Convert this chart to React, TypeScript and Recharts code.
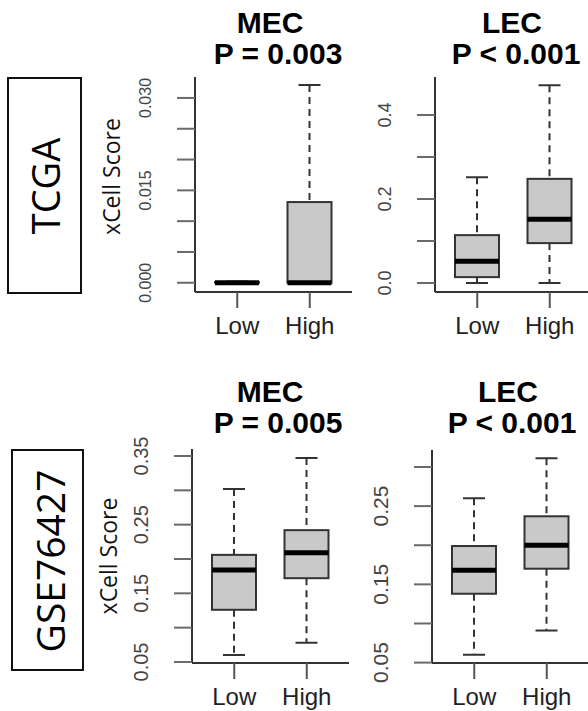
import React from "react";
import { ComposedChart, Bar, XAxis, YAxis } from "recharts";

const groups = ["Low", "High"];

// [lower whisker, Q1, median, Q3, upper whisker] for Low and High
const tcgaMec = [
  [0, 0, 0, 0.0001, 0.0002],
  [0, 0, 0, 0.0131, 0.0321],
];
const tcgaLec = [
  [0.0, 0.014, 0.052, 0.114, 0.252],
  [0.0, 0.095, 0.152, 0.248, 0.471],
];
const gseMec = [
  [0.06, 0.126, 0.184, 0.206, 0.302],
  [0.078, 0.172, 0.209, 0.242, 0.347],
];
const gseLec = [
  [0.06, 0.138, 0.168, 0.199, 0.26],
  [0.091, 0.17, 0.2, 0.237, 0.311],
];

const tcgaMecTicks = [0, 0.005, 0.01, 0.015, 0.02, 0.025, 0.03];
const tcgaMecLabels = ["0.000", "", "", "0.015", "", "", "0.030"];
const tcgaLecTicks = [0, 0.1, 0.2, 0.3, 0.4];
const tcgaLecLabels = ["0.0", "", "0.2", "", "0.4"];
const gseMecTicks = [0.05, 0.1, 0.15, 0.2, 0.25, 0.3, 0.35];
const gseMecLabels = ["0.05", "", "0.15", "", "0.25", "", "0.35"];
const gseLecTicks = [0.05, 0.1, 0.15, 0.2, 0.25, 0.3];
const gseLecLabels = ["0.05", "", "0.15", "", "0.25", ""];

const FRAME = "#333";
const SANS = "'Liberation Sans', Arial, sans-serif";

function BoxShape(props: any) {
  const { x, y, width, height, payload } = props;
  const [lo, q1, med, q3, hi] = payload.stats;
  const h = Math.abs(height || 0);
  const top = height >= 0 ? y : y + height;
  const span = hi - lo;
  const py = (v: number) => (span > 0 ? top + (h * (hi - v)) / span : top);
  const cx = x + width / 2;
  const cap = width / 4;
  return (
    <g>
      <line x1={cx} x2={cx} y1={py(hi)} y2={py(q3)} stroke={FRAME} strokeWidth={2} strokeDasharray="7 5" />
      <line x1={cx} x2={cx} y1={py(q1)} y2={py(lo)} stroke={FRAME} strokeWidth={2} strokeDasharray="7 5" />
      <line x1={cx - cap} x2={cx + cap} y1={py(hi)} y2={py(hi)} stroke={FRAME} strokeWidth={2} />
      <line x1={cx - cap} x2={cx + cap} y1={py(lo)} y2={py(lo)} stroke={FRAME} strokeWidth={2} />
      <rect x={x} y={py(q3)} width={width} height={Math.max(py(q1) - py(q3), 0)} fill="#c9c9c9" stroke={FRAME} strokeWidth={2} />
      <line x1={x} x2={x + width} y1={py(med)} y2={py(med)} stroke="#000" strokeWidth={5} />
    </g>
  );
}

function XTick(props: any) {
  const { x, y, payload } = props;
  return (
    <text x={x} y={y + 26} textAnchor="middle" fontSize={24} fontFamily={SANS} fill="#222">
      {payload.value}
    </text>
  );
}

const makeYTick = (ticks: number[], labels: string[], fontSize: number) => (props: any) => {
  const { x, y, payload } = props;
  const i = ticks.findIndex((t) => Math.abs(t - payload.value) < 1e-9);
  const label = i >= 0 ? labels[i] : "";
  if (!label) return <g />;
  const bx = x - 26;
  return (
    <text x={bx} y={y} transform={`rotate(-90, ${bx}, ${y})`} textAnchor="middle" fontSize={fontSize} fontFamily={SANS} fill="#444">
      {label}
    </text>
  );
};

type PanelProps = {
  stats: number[][];
  ticks: number[];
  labels: string[];
  domain: [number, number];
  plotLeft: number;
  plotTop: number;
  plotW: number;
  plotH: number;
  tickFont: number;
  yTitle?: boolean;
  yTitleDy?: number;
};

function Panel({ stats, ticks, labels, domain, plotLeft, plotTop, plotW, plotH, tickFont, yTitle, yTitleDy = 0 }: PanelProps) {
  const data = groups.map((g, i) => ({ group: g, range: [stats[i][0], stats[i][4]], stats: stats[i] }));
  const axisW = 110;
  const mt = 30;
  const mr = 10;
  const xh = 50;
  return (
    <div style={{ position: "absolute", left: plotLeft - axisW, top: plotTop - mt }}>
      <ComposedChart width={axisW + plotW + mr} height={mt + plotH + xh} data={data} margin={{ top: mt, right: mr, bottom: 0, left: 0 }}>
        <XAxis
          dataKey="group"
          height={xh}
          padding={{ left: 6, right: 6 }}
          tickSize={16}
          tickMargin={0}
          tick={<XTick />}
          tickLine={{ stroke: "#555", strokeWidth: 2 }}
          axisLine={{ stroke: FRAME, strokeWidth: 2 }}
        />
        <XAxis xAxisId="top" orientation="top" dataKey="group" height={0} tick={false} tickLine={false} axisLine={{ stroke: FRAME, strokeWidth: 2 }} />
        <YAxis
          type="number"
          width={axisW}
          domain={domain}
          ticks={ticks}
          allowDataOverflow
          interval={0}
          tickSize={18}
          tickMargin={0}
          tick={makeYTick(ticks, labels, tickFont)}
          tickLine={{ stroke: "#6a6a6a", strokeWidth: 2 }}
          axisLine={{ stroke: FRAME, strokeWidth: 2 }}
          label={
            yTitle
              ? {
                  content: (p: any) => {
                    const vb = p.viewBox || {};
                    const bx = vb.x + vb.width - 75;
                    const cy = vb.y + vb.height / 2 + yTitleDy;
                    return (
                      <text x={bx} y={cy} transform={`rotate(-90, ${bx}, ${cy})`} textAnchor="middle" fontSize={23} fontFamily="'Open Sans', sans-serif" fill="#111">
                        xCell Score
                      </text>
                    );
                  },
                }
              : undefined
          }
        />
        <YAxis yAxisId="right" orientation="right" width={0} domain={[0, 1]} tick={false} tickLine={false} axisLine={{ stroke: FRAME, strokeWidth: 2 }} />
        <Bar dataKey="range" barSize={44} shape={<BoxShape />} isAnimationActive={false} />
      </ComposedChart>
    </div>
  );
}

const titleStyle = { fontFamily: SANS, fontWeight: 700, fontSize: 30, fill: "#000" } as const;

export default function App() {
  return (
    <div style={{ position: "fixed", left: 0, top: 0, width: 588, height: 711, overflow: "hidden", background: "#fff" }}>
      <svg width={588} height={711} style={{ position: "absolute", left: 0, top: 0 }}>
        <rect x={8} y={78} width={73} height={215} fill="none" stroke="#111" strokeWidth={2} />
        <text x={60} y={186} transform="rotate(-90, 60, 186)" textAnchor="middle" fontSize={38} fontFamily="'Open Sans', sans-serif" fill="#000">
          TCGA
        </text>
        <rect x={12} y={450} width={71} height={220} fill="none" stroke="#111" strokeWidth={2} />
        <text x={65} y={561} transform="rotate(-90, 65, 561)" textAnchor="middle" fontSize={39} fontFamily="'Open Sans', sans-serif" fill="#000">
          GSE76427
        </text>
        <text x={270} y={33} textAnchor="middle" style={titleStyle}>MEC</text>
        <text x={278} y={64} textAnchor="middle" style={titleStyle}>P = 0.003</text>
        <text x={512} y={33} textAnchor="middle" style={titleStyle}>LEC</text>
        <text x={516} y={64} textAnchor="middle" style={titleStyle}>P &lt; 0.001</text>
        <text x={270} y={402} textAnchor="middle" style={titleStyle}>MEC</text>
        <text x={278} y={433} textAnchor="middle" style={titleStyle}>P = 0.005</text>
        <text x={508} y={402} textAnchor="middle" style={titleStyle}>LEC</text>
        <text x={512} y={433} textAnchor="middle" style={titleStyle}>P &lt; 0.001</text>
      </svg>
      <Panel stats={tcgaMec} ticks={tcgaMecTicks} labels={tcgaMecLabels} domain={[-0.0015, 0.0334]} plotLeft={195} plotTop={77} plotW={157} plotH={215} tickFont={16} yTitle yTitleDy={-8} />
      <Panel stats={tcgaLec} ticks={tcgaLecTicks} labels={tcgaLecLabels} domain={[-0.0214, 0.4905]} plotLeft={435} plotTop={77} plotW={157} plotH={215} tickFont={18} />
      <Panel stats={gseMec} ticks={gseMecTicks} labels={gseMecLabels} domain={[0.0485, 0.3602]} plotLeft={192} plotTop={449} plotW={157} plotH={214} tickFont={20} yTitle />
      <Panel stats={gseLec} ticks={gseLecTicks} labels={gseLecLabels} domain={[0.0495, 0.3217]} plotLeft={432} plotTop={450} plotW={157} plotH={213} tickFont={21} />
    </div>
  );
}
